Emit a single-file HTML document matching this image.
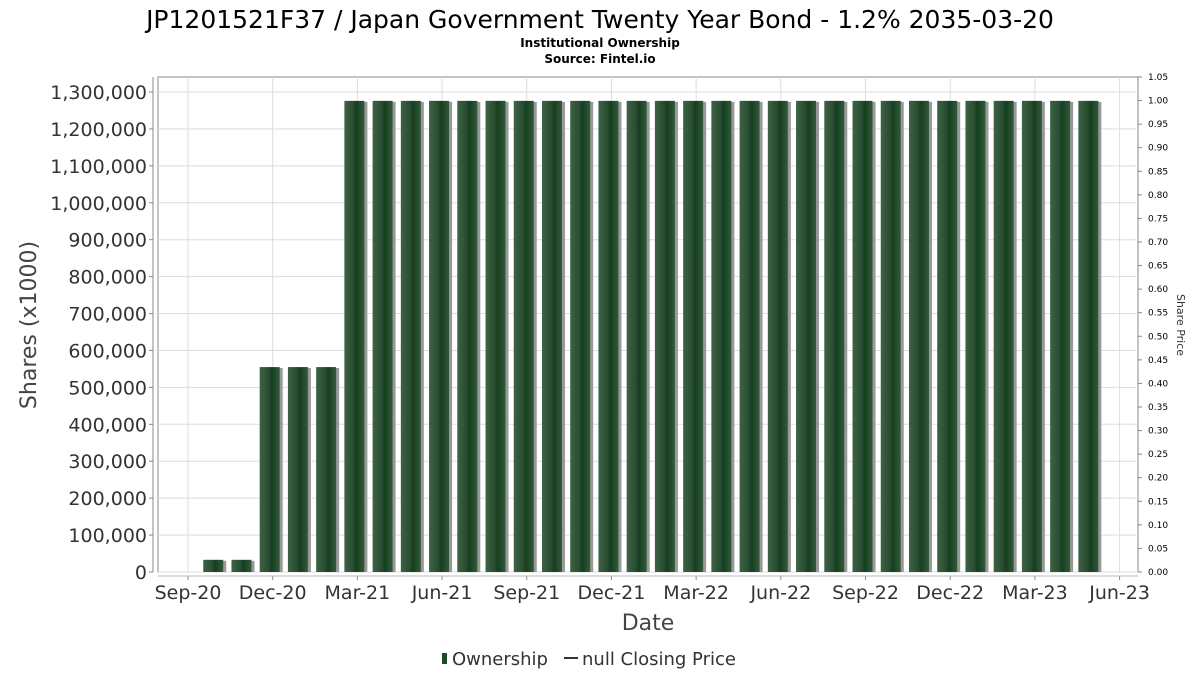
<!DOCTYPE html>
<html><head><meta charset="utf-8"><style>
body{margin:0;background:#fff;font-family:"DejaVu Sans","Liberation Sans",sans-serif;}
svg text{font-family:"DejaVu Sans","Liberation Sans",sans-serif;}
</style></head><body>
<svg id="chart" width="1200" height="675" viewBox="0 0 1200 675">
<defs>
<linearGradient id="bg" x1="0" x2="1" y1="0" y2="0">
<stop offset="0" stop-color="#3d6244"/><stop offset="0.45" stop-color="#2a4d32"/><stop offset="0.6" stop-color="#143f1e"/><stop offset="1" stop-color="#335a3b"/>
</linearGradient>
</defs>
<text x="600" y="28" text-anchor="middle" font-size="25" fill="#000">JP1201521F37 / Japan Government Twenty Year Bond - 1.2% 2035-03-20</text>
<text x="600" y="47" text-anchor="middle" font-size="12" font-weight="bold">Institutional Ownership</text>
<text x="600" y="63" text-anchor="middle" font-size="12" font-weight="bold">Source: Fintel.io</text>
<rect x="158" y="77" width="980" height="495" fill="#fff" stroke="#888"/>
<g id="grid"></g><g id="bars"></g><g id="axes"></g>
<text transform="translate(36,325) rotate(-90)" text-anchor="middle" font-size="22" fill="#444">Shares (x1000)</text>
<text transform="translate(1177,325) rotate(90)" text-anchor="middle" font-size="11" fill="#333">Share Price</text>
<text x="648" y="630" text-anchor="middle" font-size="22" fill="#444">Date</text>
<g>
<rect x="442" y="653" width="5" height="11" fill="#1e4a28"/>
<text x="452" y="665" font-size="18" fill="#333">Ownership</text>
<line x1="564" y1="658" x2="578" y2="658" stroke="#333" stroke-width="2"/>
<text x="582" y="665" font-size="18" fill="#333">null Closing Price</text>
</g>
</svg>
<script>
const barValues=[33000,33000,555000,555000,555000,1276000,1276000,1276000,1276000,1276000,1276000,1276000,1276000,1276000,1276000,1276000,1276000,1276000,1276000,1276000,1276000,1276000,1276000,1276000,1276000,1276000,1276000,1276000,1276000,1276000,1276000,1276000];
const yTicks=[0,100000,200000,300000,400000,500000,600000,700000,800000,900000,1000000,1100000,1200000,1300000];
const y2Ticks=[0,0.05,0.1,0.15,0.2,0.25,0.3,0.35,0.4,0.45,0.5,0.55,0.6,0.65,0.7,0.75,0.8,0.85,0.9,0.95,1.0,1.05];
const xLabels=["Sep-20","Dec-20","Mar-21","Jun-21","Sep-21","Dec-21","Mar-22","Jun-22","Sep-22","Dec-22","Mar-23","Jun-23"];
const NS="http://www.w3.org/2000/svg";
const y=v=>572-v*(480/1300000);
const y2=v=>572-v*(495/1.05);
const xm=m=>188+m*28.23; // months since Sep-20
function el(t,a,p){const e=document.createElementNS(NS,t);for(const k in a)e.setAttribute(k,a[k]);document.getElementById(p).appendChild(e);return e;}
yTicks.forEach(v=>{
 const g=el('line',{x1:158,x2:1138,y1:y(v),y2:y(v),stroke:'#ddd'},'grid');
 
 
 const t=el('line',{x1:149,x2:153,y1:y(v),y2:y(v),stroke:'#888'},'axes');
 
 
 const l=el('text',{x:147,y:y(v)+7,'text-anchor':'end','font-size':19,fill:'#333'},'axes');
 l.textContent=v.toLocaleString('en-US');
 
 
});
xLabels.forEach((s,i)=>{
 const x=xm(i*3);
 const g=el('line',{x1:x,x2:x,y1:77,y2:572,stroke:'#ddd'},'grid');
 
 
 const t=el('line',{x1:x,x2:x,y1:576,y2:580,stroke:'#888'},'axes');
 
 
 const l=el('text',{x:x,y:599,'text-anchor':'middle','font-size':19,fill:'#333'},'axes');
 l.textContent=s;
 
 
});
y2Ticks.forEach(v=>{
 const t=el('line',{x1:1138,x2:1142,y1:y2(v),y2:y2(v),stroke:'#888'},'axes');
 
 
 const l=el('text',{x:1148,y:y2(v)+3,'font-size':9,fill:'#000'},'axes');
 l.textContent=v.toFixed(2);
 
 
});
const a1=el('line',{x1:153,x2:153,y1:77,y2:572,stroke:'#888'},'axes');


const a2=el('line',{x1:158,x2:1138,y1:576,y2:576,stroke:'#bbb'},'axes');


barValues.forEach((v,i)=>{
 const cx=xm(i+1)-3;
 const s=el('rect',{x:cx-10+3,y:y(v)+1,width:20,height:572-y(v)-1,fill:'#999'},'bars');
 
 
 const b=el('rect',{x:cx-10,y:y(v),width:20,height:572-y(v),fill:'url(#bg)'},'bars');
 
 
});
</script>
</body></html>
